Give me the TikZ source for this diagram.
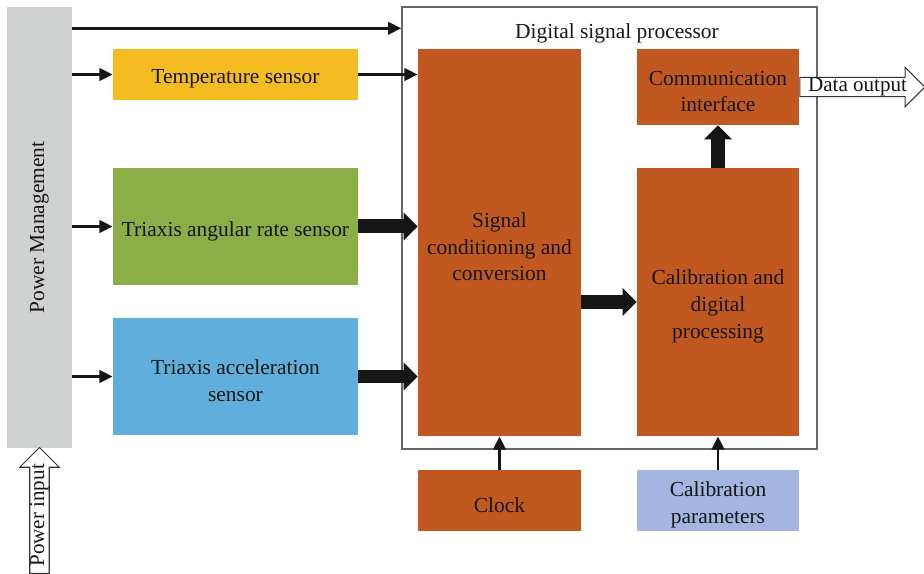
\documentclass[tikz,border=0pt]{standalone}
\usepackage{fontspec}
\setmainfont{Liberation Serif}
\usepackage{xcolor}
\definecolor{powergray}{HTML}{D0D1D1}
\definecolor{tempyellow}{HTML}{F5BC22}
\definecolor{gyrogreen}{HTML}{8BAE46}
\definecolor{accelblue}{HTML}{5FAEDB}
\definecolor{dspbrown}{HTML}{C0581F}
\definecolor{paramblue}{HTML}{A4B5E2}
\definecolor{inkblack}{HTML}{161616}
\usetikzlibrary{arrows.meta, positioning, calc, fit, shapes.arrows}

\tikzset{
  blk/.style={inner sep=0pt},
  txt/.style={inner sep=0pt, align=center, text=inkblack, font=\fontsize{12.2}{15.2}\selectfont},
  lbl/.style={txt, yshift=-2.5pt},
  thinArrow/.style={draw=inkblack, line width=1.5pt, -{Triangle[length=7.5pt, width=7pt]}},
  fatArrow/.style={draw=inkblack, line width=0.28cm, -{Triangle[length=0.28cm, width=0.54cm]}},
  openArrow/.style={single arrow, draw=black!80, fill=white, line width=0.6pt, inner sep=0pt,
                    single arrow head extend=0.2cm, text=inkblack, font=\fontsize{12}{15}\selectfont}
}

\begin{document}
\begin{tikzpicture}[x=0.02cm, y=-0.02cm]
  \useasboundingbox (0,0) rectangle (924,574);

  % Power management column
  \node[blk, fill=powergray, fit={(7,7) (72,448)}] (pm) {};
  \node[txt, rotate=90] (pmlabel) at (pm.center) {Power Management};

  % DSP frame
  \node[blk, draw=black!60, line width=0.8pt, fit={(402,7) (817,449)}] (dsp) {};
  \node[lbl] (dsptitle) at (617,29) {Digital signal processor};

  % Sensors
  \node[blk, fill=tempyellow, fit={(113,49) (358,100)}] (temp) {};
  \node[lbl] (templabel) at (temp.center) {Temperature sensor};
  \node[blk, fill=gyrogreen, fit={(113,168) (358,285)}] (gyro) {};
  \node[lbl] (gyrolabel) at (gyro.center) {Triaxis angular rate sensor};
  \node[blk, fill=accelblue, fit={(113,318) (358,435)}] (accel) {};
  \node[lbl] (accellabel) at (accel.center) {Triaxis acceleration\\sensor};

  % Processing blocks
  \node[blk, fill=dspbrown, fit={(418,49) (581,436)}] (sigcond) {};
  \node[lbl] (sigcondlabel) at (sigcond.center) {Signal\\conditioning and\\conversion};
  \node[blk, fill=dspbrown, fit={(637,168) (799,436)}] (calib) {};
  \node[lbl] (caliblabel) at (calib.center) {Calibration and\\digital\\processing};
  \node[blk, fill=dspbrown, fit={(637,49) (799,125)}] (comm) {};
  \node[lbl] (commlabel) at (comm.center) {Communication\\interface};
  \node[blk, fill=dspbrown, fit={(418,470) (581,531)}] (clock) {};
  \node[lbl] (clocklabel) at (clock.center) {Clock};
  \node[blk, fill=paramblue, fit={(637,470) (799,531)}] (params) {};
  \node[lbl] (paramslabel) at (params.center) {Calibration\\parameters};

  % Power lines
  \draw[thinArrow] (pm.east |- dsp.north) ++(0,22) coordinate (toptap) -- (dsp.west |- toptap);
  \draw[thinArrow] (pm.east |- temp) -- (temp.west);
  \draw[thinArrow] (pm.east |- gyro) -- (gyro.west);
  \draw[thinArrow] (pm.east |- accel) -- (accel.west);

  % Signal path
  \draw[thinArrow] (temp.east) -- (sigcond.west |- temp.east);
  \draw[fatArrow] (gyro.east) -- (sigcond.west |- gyro.east);
  \draw[fatArrow] (accel.east) -- (sigcond.west |- accel.east);
  \draw[fatArrow] (sigcond.east |- calib) -- (calib.west);
  \draw[fatArrow] (calib.north) -- (comm.south);
  \draw[thinArrow] (clock.north) -- (sigcond.south);
  \draw[thinArrow] (params.north) -- (calib.south);

  % Input and output
  \node[openArrow, minimum height=2.5cm, anchor=tail] (dataout) at (comm.east) {Data output};
  \node[openArrow, rotate=90, minimum height=2.52cm, anchor=tail] (powerin) at (pm.south |- 0,574) {Power input};
\end{tikzpicture}
\end{document}
